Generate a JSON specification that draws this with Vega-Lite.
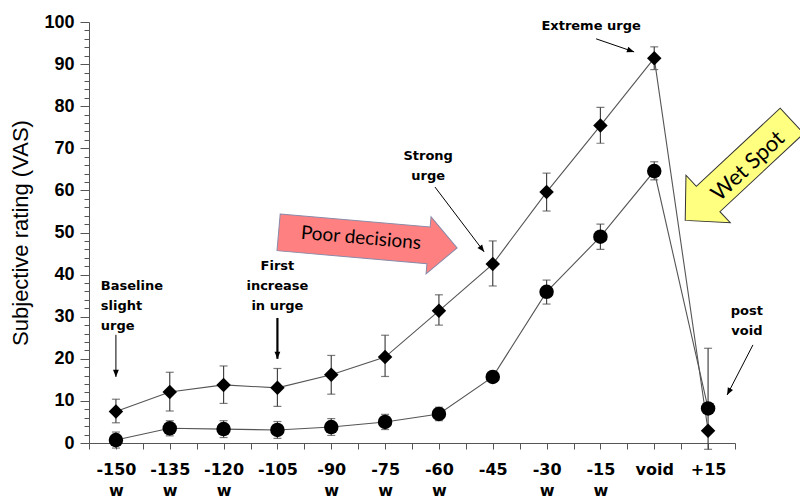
{
  "$schema": "https://vega.github.io/schema/vega-lite/v6.json",
  "width": 646,
  "height": 421,
  "autosize": "none",
  "padding": {"left": 89, "top": 22, "right": 65, "bottom": 56},
  "background": "white",
  "config": {"view": {"stroke": null}},
  "datasets": {
    "ratings": [
      {"t": -150, "series": "Urge", "v": 7.5, "lo": 4.8, "hi": 10.4},
      {"t": -135, "series": "Urge", "v": 12.1, "lo": 7.6, "hi": 16.8},
      {"t": -120, "series": "Urge", "v": 13.8, "lo": 9.4, "hi": 18.3},
      {"t": -105, "series": "Urge", "v": 13.1, "lo": 8.7, "hi": 17.7},
      {"t": -90, "series": "Urge", "v": 16.2, "lo": 11.6, "hi": 20.8},
      {"t": -75, "series": "Urge", "v": 20.4, "lo": 15.8, "hi": 25.6},
      {"t": -60, "series": "Urge", "v": 31.4, "lo": 28.0, "hi": 35.2},
      {"t": -45, "series": "Urge", "v": 42.5, "lo": 37.3, "hi": 48.0},
      {"t": -30, "series": "Urge", "v": 59.6, "lo": 55.1, "hi": 64.1},
      {"t": -15, "series": "Urge", "v": 75.4, "lo": 71.2, "hi": 79.7},
      {"t": 0, "series": "Urge", "v": 91.4, "lo": 88.7, "hi": 94.1},
      {"t": 15, "series": "Urge", "v": 2.9, "lo": -1.5, "hi": 22.5},
      {"t": -150, "series": "Discomfort", "v": 0.7, "lo": -1.2, "hi": 2.6},
      {"t": -135, "series": "Discomfort", "v": 3.5, "lo": 1.7, "hi": 5.3},
      {"t": -120, "series": "Discomfort", "v": 3.3, "lo": 1.3, "hi": 5.3},
      {"t": -105, "series": "Discomfort", "v": 3.1, "lo": 1.1, "hi": 5.1},
      {"t": -90, "series": "Discomfort", "v": 3.8, "lo": 1.8, "hi": 5.8},
      {"t": -75, "series": "Discomfort", "v": 5.0, "lo": 3.2, "hi": 6.8},
      {"t": -60, "series": "Discomfort", "v": 6.9, "lo": 5.3, "hi": 8.5},
      {"t": -45, "series": "Discomfort", "v": 15.7, "lo": 15.2, "hi": 16.2},
      {"t": -30, "series": "Discomfort", "v": 35.9, "lo": 33.0, "hi": 38.7},
      {"t": -15, "series": "Discomfort", "v": 49.0, "lo": 46.0, "hi": 52.0},
      {"t": 0, "series": "Discomfort", "v": 64.6, "lo": 62.5, "hi": 66.8},
      {"t": 15, "series": "Discomfort", "v": 8.2, "lo": 8.2, "hi": 8.2}
    ],
    "callouts": [
      {"x": -105, "y": 41.0, "label": "First\nincrease\nin urge"},
      {"x": -63.0, "y": 67.3, "label": "Strong\nurge"},
      {"x": -17.6, "y": 98.0, "label": "Extreme urge"},
      {"x": 25.8, "y": 30.3, "label": "post\nvoid"}
    ],
    "pointers": [
      {"id": "baseline", "x": -150, "y": 25.7, "x2": -150, "y2": 15.7, "heading": 90},
      {"id": "first", "x": -105, "y": 29.7, "x2": -105, "y2": 20.0, "heading": 90},
      {"id": "strong", "x": -61.1, "y": 60.8, "x2": -47.4, "y2": 45.4, "heading": 53},
      {"id": "extreme", "x": -16.2, "y": 96.0, "x2": -5.6, "y2": 92.9, "heading": 19},
      {"id": "post", "x": 27.5, "y": 23.3, "x2": 20.3, "y2": 11.4, "heading": 117.5}
    ]
  },
  "layer": [
    {
      "data": {"name": "ratings"},
      "mark": {"type": "rule", "color": "#444", "strokeWidth": 1.2},
      "encoding": {
        "x": {
          "field": "t", "type": "quantitative",
          "scale": {"domain": [-157.5, 22.5], "nice": false, "zero": false},
          "axis": {
            "title": null,
            "grid": false,
            "tickCount": 40,
            "values": [-157.5, -150, -142.5, -135, -127.5, -120, -112.5, -105, -97.5, -90, -82.5, -75, -67.5, -60, -52.5, -45, -37.5, -30, -22.5, -15, -7.5, 0, 7.5, 15, 22.5],
            "labelExpr": "datum.value % 15 != 0 ? '' : datum.value == 0 ? 'void' : datum.value == 15 ? '+15' : indexof([-150,-135,-120,-90,-75,-60,-30,-15], datum.value) >= 0 ? [''+datum.value, 'w'] : ''+datum.value",
            "labelFont": "DejaVu Sans",
            "labelFontWeight": "bold",
            "labelFontSize": 16,
            "labelColor": "black",
            "labelPadding": 12,
            "labelLineHeight": 21,
            "labelOverlap": false,
            "labelFlush": false,
            "tickSize": 6,
            "tickColor": "#555",
            "domainColor": "#555"
          }
        },
        "y": {
          "field": "lo", "type": "quantitative",
          "scale": {"domain": [0, 100], "nice": false, "zero": false},
          "axis": {
            "title": "Subjective rating (VAS)",
            "grid": false,
            "tickCount": 80,
            "values": [0,2,4,6,8,10,12,14,16,18,20,22,24,26,28,30,32,34,36,38,40,42,44,46,48,50,52,54,56,58,60,62,64,66,68,70,72,74,76,78,80,82,84,86,88,90,92,94,96,98,100],
            "labelExpr": "datum.value % 10 == 0 ? datum.label : ''",
            "labelFont": "Liberation Sans",
            "labelFontWeight": "bold",
            "labelFontSize": 18,
            "labelColor": "black",
            "labelPadding": 6,
            "labelOverlap": false,
            "tickSize": {"condition": {"test": "datum.value % 10 == 0", "value": 9}, "value": 5},
            "tickColor": "#555",
            "domainColor": "#555",
            "titleFont": "Liberation Sans",
            "titleFontWeight": "normal",
            "titleFontSize": 22,
            "titleColor": "black",
            "titlePadding": 11
          }
        },
        "y2": {"field": "hi"}
      }
    },
    {
      "data": {"name": "ratings"},
      "mark": {"type": "tick", "orient": "horizontal", "color": "#444", "size": 8, "thickness": 1.2},
      "encoding": {
        "x": {"field": "t", "type": "quantitative"},
        "y": {"field": "lo", "type": "quantitative"}
      }
    },
    {
      "data": {"name": "ratings"},
      "mark": {"type": "tick", "orient": "horizontal", "color": "#444", "size": 8, "thickness": 1.2},
      "encoding": {
        "x": {"field": "t", "type": "quantitative"},
        "y": {"field": "hi", "type": "quantitative"}
      }
    },
    {
      "data": {"name": "ratings"},
      "mark": {"type": "line", "color": "#555", "strokeWidth": 1.1},
      "encoding": {
        "x": {"field": "t", "type": "quantitative"},
        "y": {"field": "v", "type": "quantitative"},
        "detail": {"field": "series", "type": "nominal"},
        "order": {"field": "t", "type": "quantitative"}
      }
    },
    {
      "data": {"name": "ratings"},
      "mark": {"type": "point", "filled": true, "color": "black", "opacity": 1, "size": 210},
      "encoding": {
        "x": {"field": "t", "type": "quantitative"},
        "y": {"field": "v", "type": "quantitative"},
        "shape": {"field": "series", "type": "nominal", "scale": {"domain": ["Urge", "Discomfort"], "range": ["diamond", "circle"]}, "legend": null}
      }
    },
    {
      "data": {"name": "pointers"},
      "mark": {"type": "rule", "color": "black"},
      "encoding": {
        "x": {"field": "x", "type": "quantitative"},
        "y": {"field": "y", "type": "quantitative"},
        "x2": {"field": "x2"},
        "y2": {"field": "y2"},
        "strokeWidth": {"condition": {"test": "datum.id == 'first'", "value": 2.2}, "value": 1}
      }
    },
    {
      "data": {"name": "pointers"},
      "mark": {"type": "point", "filled": true, "color": "black", "opacity": 1, "size": 80, "shape": "M 0 0 L -1.6 -0.65 L -1.6 0.65 Z"},
      "encoding": {
        "x": {"field": "x2", "type": "quantitative"},
        "y": {"field": "y2", "type": "quantitative"},
        "angle": {"field": "heading", "type": "quantitative", "scale": null}
      }
    },
    {
      "data": {"name": "callouts"},
      "mark": {"type": "text", "font": "DejaVu Sans", "fontWeight": "bold", "fontSize": 13, "lineBreak": "\n", "lineHeight": 20, "align": "center", "baseline": "alphabetic", "color": "black"},
      "encoding": {
        "x": {"field": "x", "type": "quantitative"},
        "y": {"field": "y", "type": "quantitative"},
        "text": {"field": "label", "type": "nominal"}
      }
    },
    {
      "data": {"values": [{"x": -154.2, "y": 36.3, "label": "Baseline\nslight\nurge"}]},
      "mark": {"type": "text", "font": "DejaVu Sans", "fontWeight": "bold", "fontSize": 13, "lineBreak": "\n", "lineHeight": 20, "align": "left", "baseline": "alphabetic", "color": "black"},
      "encoding": {
        "x": {"field": "x", "type": "quantitative"},
        "y": {"field": "y", "type": "quantitative"},
        "text": {"field": "label", "type": "nominal"}
      }
    },
    {
      "data": {"values": [{"x": -79.8, "y": 48.2, "label": "Poor decisions"}]},
      "mark": {"type": "point", "filled": true, "fill": "#FF8080", "stroke": "#8a8aa8", "strokeWidth": 1, "opacity": 1, "size": 32100, "angle": 5,
        "shape": "M -1 -0.206 L 0.68 -0.206 L 0.68 -0.32 L 1 0 L 0.68 0.32 L 0.68 0.206 L -1 0.206 Z"},
      "encoding": {
        "x": {"field": "x", "type": "quantitative"},
        "y": {"field": "y", "type": "quantitative"}
      }
    },
    {
      "data": {"values": [{"x": -81.7, "y": 48.7, "label": "Poor decisions"}]},
      "mark": {"type": "text", "font": "Lato", "fontSize": 19, "angle": 5, "align": "center", "baseline": "middle", "color": "black"},
      "encoding": {
        "x": {"field": "x", "type": "quantitative"},
        "y": {"field": "y", "type": "quantitative"},
        "text": {"field": "label", "type": "nominal"}
      }
    },
    {
      "data": {"values": [{"x": 23.5, "y": 64.7, "label": "Wet Spot"}]},
      "mark": {"type": "point", "filled": true, "fill": "#FFFF80", "stroke": "#333", "strokeWidth": 1, "opacity": 1, "size": 21300, "angle": 137,
        "shape": "M -1 -0.237 L 0.571 -0.237 L 0.571 -0.445 L 1 0 L 0.571 0.445 L 0.571 0.237 L -1 0.237 Z"},
      "encoding": {
        "x": {"field": "x", "type": "quantitative"},
        "y": {"field": "y", "type": "quantitative"}
      }
    },
    {
      "data": {"values": [{"x": 26.1, "y": 65.8, "label": "Wet Spot"}]},
      "mark": {"type": "text", "font": "Lato", "fontSize": 22, "angle": -43, "align": "center", "baseline": "middle", "color": "black"},
      "encoding": {
        "x": {"field": "x", "type": "quantitative"},
        "y": {"field": "y", "type": "quantitative"},
        "text": {"field": "label", "type": "nominal"}
      }
    }
  ]
}
